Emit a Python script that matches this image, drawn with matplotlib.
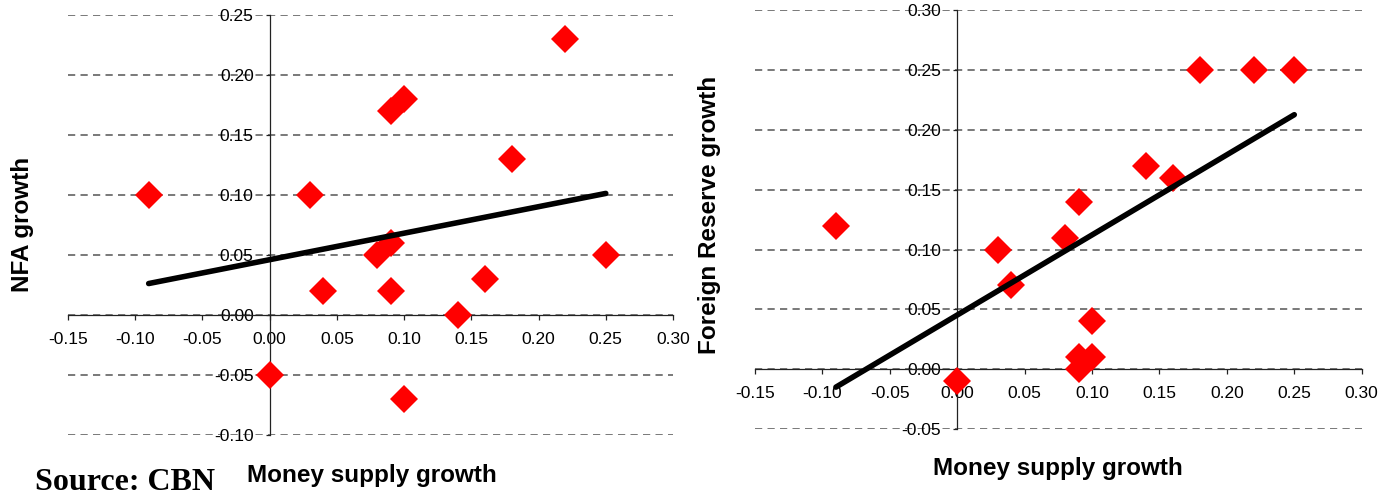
import numpy as np
import matplotlib
matplotlib.use("Agg")
import matplotlib.pyplot as plt
from matplotlib.ticker import FormatStrFormatter, MultipleLocator

plt.rcParams['font.family'] = ['Liberation Sans', 'DejaVu Sans']
plt.rcParams['axes.unicode_minus'] = False
plt.rcParams['lines.scale_dashes'] = False

# Data
money_supply_growth = [-0.09, 0.00, 0.03, 0.04, 0.08, 0.09, 0.09, 0.09, 0.10, 0.10, 0.14, 0.16, 0.18, 0.22, 0.25]
nfa_growth          = [0.10, -0.05, 0.10, 0.02, 0.05, 0.06, 0.17, 0.02, 0.18, -0.07, 0.00, 0.03, 0.13, 0.23, 0.05]
reserve_growth      = [0.12, -0.01, 0.10, 0.07, 0.11, 0.14, 0.01, 0.00, 0.01, 0.04, 0.17, 0.16, 0.25, 0.25, 0.25]

x_label = "Money supply growth"
left_ylabel = "NFA growth"
right_ylabel = "Foreign Reserve growth"
source_text = "Source: CBN"

fig = plt.figure(figsize=(13.85, 4.95), dpi=100)

ax1 = fig.add_axes([0.04910, 0.12162, 0.43682, 0.84707])
ax2 = fig.add_axes([0.54513, 0.13293, 0.43805, 0.84687])


def style(ax, x, y, ylim):
    ax.set_xlim(-0.15, 0.30)
    ax.set_ylim(*ylim)
    ax.xaxis.set_major_locator(MultipleLocator(0.05))
    ax.yaxis.set_major_locator(MultipleLocator(0.05))
    ax.xaxis.set_major_formatter(FormatStrFormatter('%.2f'))
    ax.yaxis.set_major_formatter(FormatStrFormatter('%.2f'))
    for s in ['top', 'right']:
        ax.spines[s].set_visible(False)
    ax.spines['left'].set_position(('data', 0))
    ax.spines['bottom'].set_position(('data', 0))
    for s in ['left', 'bottom']:
        ax.spines[s].set_color('#222222')
        ax.spines[s].set_linewidth(0.9)
    ax.tick_params(axis='x', direction='out', length=3.6, width=0.9, color='#222222',
                   pad=8.5, labelsize=12.5)
    ax.tick_params(axis='y', direction='out', length=3.0, width=0.9, color='#222222',
                   pad=8.5, labelsize=12.5)
    ax.set_axisbelow(True)
    ax.yaxis.grid(True, color='#555555', linewidth=1.1, linestyle=(0, (5.2, 3.8)))
    ax.xaxis.grid(False)
    ax.patch.set_alpha(0)
    ax.plot(x, y, linestyle='none', marker='D', markersize=14.3, color='#ff0000',
            markeredgewidth=0, zorder=3, clip_on=False)
    xa = np.array(x)
    ya = np.array(y)
    slope, intercept = np.polyfit(xa, ya, 1)
    xs = np.array([xa.min(), xa.max()])
    ax.plot(xs, intercept + slope * xs, color='black', linewidth=4.0,
            solid_capstyle='round', zorder=4, clip_on=False)


style(ax1, money_supply_growth, nfa_growth, (-0.10, 0.25))
style(ax2, money_supply_growth, reserve_growth, (-0.05, 0.30))

fig.text(0.0166, 0.5475, left_ylabel, rotation=90, ha='center', va='center',
         fontsize=17.5, fontweight='bold')
fig.text(0.5126, 0.5657, right_ylabel, rotation=90, ha='center', va='center',
         fontsize=17.5, fontweight='bold')
fig.text(371.7 / 1385, 1 - 482 / 495, x_label, ha='center', va='baseline',
         fontsize=17.5, fontweight='bold')
fig.text(1058 / 1385, 1 - 475 / 495, x_label, ha='center', va='baseline',
         fontsize=17.5, fontweight='bold')
fig.text(35 / 1385, 1 - 490 / 495, source_text, ha='left', va='baseline',
         fontsize=23, fontweight='bold', family=['Liberation Serif', 'DejaVu Serif'])

fig.savefig("out.png", dpi=100)
